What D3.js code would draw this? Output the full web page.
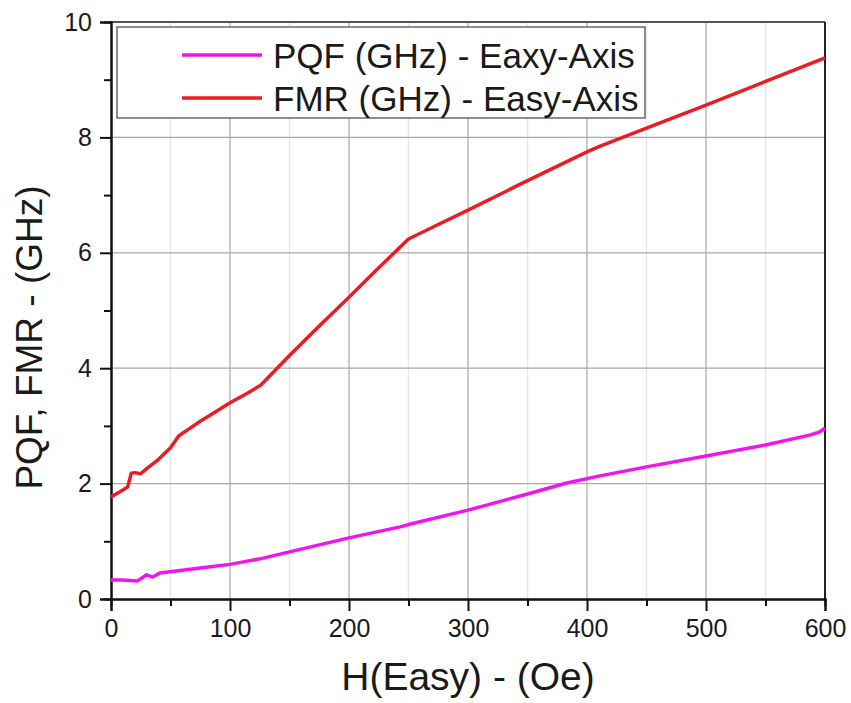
<!DOCTYPE html>
<html>
<head>
<meta charset="utf-8">
<script src="https://cdn.jsdelivr.net/npm/d3@7"></script>
<style>
  body { margin: 0; background: #fff; }
  text { font-family: "Liberation Sans", Arial, sans-serif; fill: #1a1a1a; }
</style>
</head>
<body>
<div id="chart"></div>
<script>
// H field (Oe) and frequencies (GHz)
var pqfH   = [0, 10, 22, 30, 35, 41, 60, 80, 100, 126, 159, 200, 243, 250, 300, 350, 383, 410, 450, 500, 550, 587, 595, 600];
var pqfVal = [0.33, 0.33, 0.31, 0.42, 0.38, 0.45, 0.50, 0.55, 0.60, 0.70, 0.86, 1.06, 1.25, 1.29, 1.54, 1.82, 2.01, 2.13, 2.29, 2.48, 2.67, 2.84, 2.89, 2.96];

var fmrH   = [0, 5, 10, 14, 17, 20, 25, 30, 40, 50, 57, 65, 75, 90, 100, 115, 126, 150, 175, 200, 225, 250, 275, 300, 350, 400, 410, 450, 500, 550, 600];
var fmrVal = [1.77, 1.83, 1.89, 1.94, 2.18, 2.19, 2.17, 2.26, 2.42, 2.62, 2.83, 2.94, 3.08, 3.27, 3.40, 3.57, 3.71, 4.22, 4.73, 5.23, 5.74, 6.24, 6.49, 6.74, 7.25, 7.75, 7.84, 8.16, 8.56, 8.97, 9.38];

var xTicks = [0, 100, 200, 300, 400, 500, 600];
var yTicks = [0, 2, 4, 6, 8, 10];
var legendNames = ["PQF (GHz) - Eaxy-Axis", "FMR (GHz) - Easy-Axis"];
var colors = ["#f014f0", "#ec1c24"];

var margin = {top: 22, right: 26, bottom: 104, left: 111},
    width = 851 - margin.left - margin.right,
    height = 703 - margin.top - margin.bottom;

var svg = d3.select("#chart")
  .append("svg")
    .attr("width", 851)
    .attr("height", 703)
  .append("g")
    .attr("transform", "translate(" + margin.left + "," + margin.top + ")");

var x = d3.scaleLinear().domain([0, 600]).range([0, width]);
var y = d3.scaleLinear().domain([0, 10]).range([height, 0]);

// minor vertical grid (faint)
svg.append("g")
  .selectAll("line")
  .data(d3.range(50, 600, 100))
  .enter()
  .append("line")
    .attr("x1", function (d) { return x(d); })
    .attr("x2", function (d) { return x(d); })
    .attr("y1", 0).attr("y2", height)
    .style("stroke", "#e6e6e6").style("stroke-width", 1.5);

// major grid
svg.append("g")
  .selectAll("line")
  .data(xTicks.slice(1, -1))
  .enter()
  .append("line")
    .attr("x1", function (d) { return x(d); })
    .attr("x2", function (d) { return x(d); })
    .attr("y1", 0).attr("y2", height)
    .style("stroke", "#a8a8a8").style("stroke-width", 1.2);

svg.append("g")
  .selectAll("line")
  .data(yTicks.slice(1, -1))
  .enter()
  .append("line")
    .attr("y1", function (d) { return y(d); })
    .attr("y2", function (d) { return y(d); })
    .attr("x1", 0).attr("x2", width)
    .style("stroke", "#a8a8a8").style("stroke-width", 1.2);

// frame top & right
svg.append("line").attr("x1", 0).attr("x2", width).attr("y1", 0).attr("y2", 0)
  .style("stroke", "#555").style("stroke-width", 2);
svg.append("line").attr("x1", width).attr("x2", width).attr("y1", 0).attr("y2", height)
  .style("stroke", "#222").style("stroke-width", 2);

// minor ticks
var xMinor = svg.append("g")
  .attr("transform", "translate(0," + height + ")")
  .call(d3.axisBottom(x).tickValues(d3.range(50, 600, 100)).tickSize(7).tickFormat(""));
var yMinor = svg.append("g")
  .call(d3.axisLeft(y).tickValues(d3.range(1, 10, 2)).tickSize(7).tickFormat(""));

// major axes
var xAxis = svg.append("g")
  .attr("transform", "translate(0," + height + ")")
  .call(d3.axisBottom(x).tickValues(xTicks).tickSize(12).tickPadding(8));
var yAxis = svg.append("g")
  .call(d3.axisLeft(y).tickValues(yTicks).tickSize(11).tickPadding(8));

[xMinor, yMinor, xAxis, yAxis].forEach(function (g) {
  g.selectAll(".domain").style("stroke", "#111").style("stroke-width", 2);
  g.selectAll(".tick line").style("stroke", "#111").style("stroke-width", 2);
});
xAxis.selectAll("text").style("font-size", "25px").style("fill", "#1a1a1a")
  .style("font-family", "Liberation Sans, Arial, sans-serif");
yAxis.selectAll("text").style("font-size", "25px").style("fill", "#1a1a1a")
  .style("font-family", "Liberation Sans, Arial, sans-serif");

// axis titles
svg.append("text")
  .attr("x", x(300))
  .attr("y", height + 91)
  .attr("text-anchor", "middle")
  .style("font-size", "39px")
  .text("H(Easy) - (Oe)");

svg.append("text")
  .attr("transform", "translate(" + (-69) + "," + (y(5) + 27) + ") rotate(-90)")
  .attr("text-anchor", "middle")
  .style("font-size", "37px")
  .text("PQF, FMR - (GHz)");

// curves
var line = d3.line()
  .x(function (d) { return x(d[0]); })
  .y(function (d) { return y(d[1]); });

var pqfData = pqfH.map(function (h, i) { return [h, pqfVal[i]]; });
var fmrData = fmrH.map(function (h, i) { return [h, fmrVal[i]]; });

svg.append("path").datum(pqfData)
  .attr("d", line)
  .style("fill", "none").style("stroke", colors[0]).style("stroke-width", 3.5)
  .style("stroke-linejoin", "round");
svg.append("path").datum(fmrData)
  .attr("d", line)
  .style("fill", "none").style("stroke", colors[1]).style("stroke-width", 3.5)
  .style("stroke-linejoin", "round");

// legend
var lg = svg.append("g").attr("transform", "translate(" + (117 - margin.left) + "," + (27 - margin.top) + ")");
lg.append("rect")
  .attr("x", 0).attr("y", 0)
  .attr("width", 645 - 117).attr("height", 118 - 27)
  .style("fill", "#fff").style("stroke", "#444").style("stroke-width", 1.2);
legendNames.forEach(function (name, i) {
  var cy = 28 + i * 43;
  lg.append("line")
    .attr("x1", 182 - 117).attr("x2", 262 - 117)
    .attr("y1", cy).attr("y2", cy)
    .style("stroke", colors[i]).style("stroke-width", 3.5);
  lg.append("text")
    .attr("x", 273 - 117)
    .attr("y", cy)
    .attr("dy", "0.36em")
    .style("font-size", "35px")
    .text(name);
});
</script>
</body>
</html>
